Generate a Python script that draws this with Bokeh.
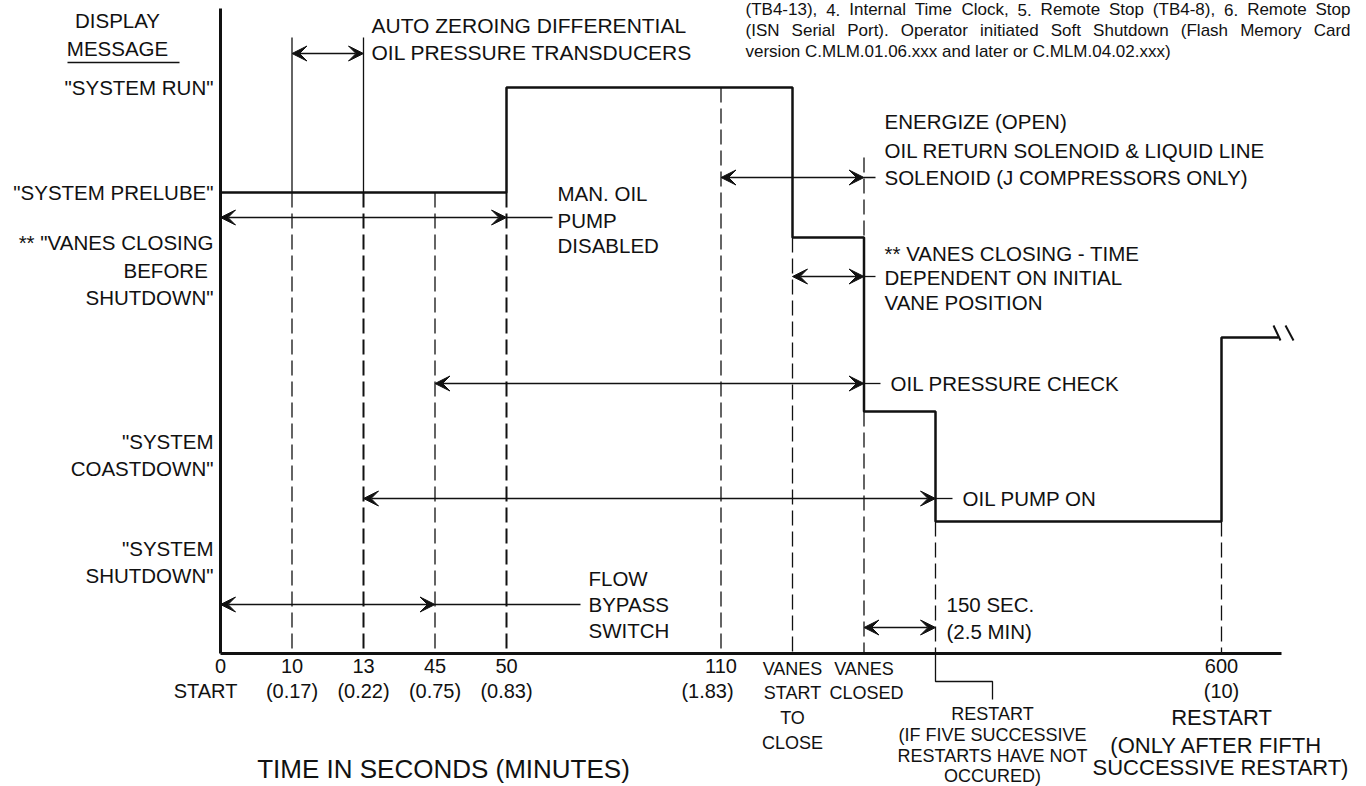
from bokeh.plotting import figure
from bokeh.models import Range1d, Arrow, VeeHead, ColumnDataSource
from bokeh.core.properties import value
from bokeh.embed import file_html
from bokeh.resources import INLINE

# ---------------- data ----------------
event_names = ["0", "10", "13", "45", "50", "110", "VANES START", "VANES CLOSED", "RESTART", "600"]
event_slot = [0, 1, 2, 3, 4, 7, 8, 9, 10, 14]          # schematic (not to scale) time axis
tick_seconds = ["0", "10", "13", "45", "50", "110", "", "", "", "600"]
tick_minutes = ["START", "(0.17)", "(0.22)", "(0.75)", "(0.83)", "(1.83)", "", "", "", "(10)"]

message_names = ["RUN", "PRELUBE", "VANES", "COASTDOWN", "SHUTDOWN", "RESTARTED"]
message_level = [566, 461, 416, 242, 132, 316]

transition_event = ["0", "50", "VANES START", "VANES CLOSED", "RESTART", "600"]
transition_message = ["PRELUBE", "RUN", "VANES", "COASTDOWN", "SHUTDOWN", "RESTARTED"]

interval_start = ["10", "0", "110", "VANES START", "45", "13", "0", "VANES CLOSED"]
interval_end = ["13", "50", "VANES CLOSED", "VANES CLOSED", "VANES CLOSED", "RESTART", "45", "RESTART"]
interval_name = ["AUTO ZEROING", "MAN. OIL PUMP DISABLED", "ENERGIZE", "VANES CLOSING",
                 "OIL PRESSURE CHECK", "OIL PUMP ON", "FLOW BYPASS SWITCH", "150 SEC."]

note_lines = ["(TB4-13), 4. Internal Time Clock, 5. Remote Stop (TB4-8), 6. Remote Stop",
              "(ISN Serial Port). Operator initiated Soft Shutdown (Flash Memory Card",
              "version C.MLM.01.06.xxx and later or C.MLM.04.02.xxx)"]

# ---------------- layout helpers ----------------
SLOT = 71.5
X0 = 220
BASE = 653
INK = "#111111"
FONT = value("Liberation Sans")
W_PX, H_PX = 1366, 786


def X(px):
    return (px - X0) / SLOT


def Y(py):
    return BASE - py


ev = dict(zip(event_names, event_slot))
lv = dict(zip(message_names, message_level))

p = figure(width=W_PX, height=H_PX, x_range=Range1d(X(0), X(W_PX)), y_range=Range1d(Y(H_PX), Y(0)),
           output_backend="svg", toolbar_location=None, min_border=0,
           x_axis_type=None, y_axis_type=None, outline_line_color=None)
p.grid.visible = False
p.background_fill_color = "white"

# axes of the diagram
p.line([0, 0], [0, Y(8)], line_width=3, line_color=INK)
p.line([0, X(1281)], [0, 0], line_width=3, line_color=INK)

# event lines (dashed, from the signal down to the time axis)
dash_top = {"10": "PRELUBE", "13": "PRELUBE", "45": "PRELUBE", "50": "PRELUBE", "110": "RUN",
            "VANES START": "VANES", "VANES CLOSED": "COASTDOWN", "RESTART": "SHUTDOWN", "600": "SHUTDOWN"}
dash_w = {"13": 2.0, "50": 2.0}
for e, m in dash_top.items():
    p.segment(ev[e], lv[m], ev[e], 0, line_width=dash_w.get(e, 1.3), line_color=INK, line_dash="15 6")
p.segment(ev["VANES CLOSED"], Y(157), ev["VANES CLOSED"], lv["VANES"], line_width=1.3,
          line_color=INK, line_dash="15 6")
for e in ["10", "13"]:
    p.segment(ev[e], Y(37), ev[e], lv["PRELUBE"], line_width=1.3, line_color=INK)

# display message signal (step line)
sx, sy = [], []
for e, m in zip(transition_event, transition_message):
    if sx:
        sx.append(ev[e])
        sy.append(sy[-1])
    sx.append(ev[e])
    sy.append(lv[m])
sx.append(X(1278))
sy.append(sy[-1])
p.line(sx, sy, line_width=2.5, line_color=INK)
p.segment([X(1273), X(1285)], [Y(325), Y(325)], [X(1280), X(1293)], [Y(340), Y(340)],
          line_width=2, line_color=INK)

# restart leader below the axis
r = ev["RESTART"]
p.line([r, r, X(992), X(992)], [0, Y(681), Y(681), Y(699)], line_width=1.3, line_color=INK)

# interval arrows
row_y = [53, 217, 177, 276, 383, 498, 604, 627]
leader_to = [None, 552, 875, 875, 880, 952, 580, None]
src = ColumnDataSource(dict(
    x0=[ev[s] for s in interval_start], x1=[ev[e] for e in interval_end],
    y=[Y(v) for v in row_y]))


def head():
    return VeeHead(size=15, fill_color=INK, line_color=INK, line_width=1)


p.add_layout(Arrow(start=head(), end=head(), x_start="x0", y_start="y", x_end="x1", y_end="y",
                   source=src, line_width=1.3, line_color=INK))
for s, e, yy, lt in zip(interval_start, interval_end, row_y, leader_to):
    if lt is not None:
        p.segment(ev[e], Y(yy), X(lt), Y(yy), line_width=1.3, line_color=INK)


# ---------------- texts ----------------
def txt(texts, xs, ys, align="left", size=21, baseline="middle"):
    p.text(x=xs, y=ys, text=texts, text_align=align, text_baseline=baseline,
           text_font=FONT, text_font_size=f"{size}px", text_color=INK)


ADV = {c: 556 for c in "0123456789"}
ADV.update(dict(zip("abcdefghijklmnopqrstuvwxyz",
                    [556, 556, 500, 556, 556, 278, 556, 556, 222, 222, 500, 222, 833, 556, 556, 556, 556,
                     333, 500, 278, 556, 500, 722, 500, 500, 500])))
ADV.update(dict(zip("ABCDEFGHIJKLMNOPQRSTUVWXYZ",
                    [667, 667, 722, 722, 667, 611, 778, 722, 278, 500, 667, 556, 833, 722, 778, 667, 778,
                     722, 667, 611, 722, 667, 944, 667, 667, 611])))
ADV.update({" ": 278, "(": 333, ")": 333, ",": 278, ".": 278, "-": 333})


def text_w(s, size):
    return sum(ADV.get(c, 556) for c in s) * size / 1000.0


def justified(line, xl, xr, yc, size):
    words = line.split(" ")
    gap = (xr - xl - sum(text_w(w, size) for w in words)) / (len(words) - 1)
    xs, x = [], xl
    for w in words:
        xs.append(X(x))
        x += text_w(w, size) + gap
    txt(words, xs, [Y(yc)] * len(words), "left", size)


# left: display messages
txt(["DISPLAY", "MESSAGE"], [X(117)] * 2, [Y(20), Y(48)], "center", 20.5)
p.segment(X(67), Y(62), X(179), Y(62), line_width=1.5, line_color=INK)
left_lines = [('"SYSTEM RUN"', 87), ('"SYSTEM PRELUBE"', 192), ('** "VANES CLOSING', 242),
              ('BEFORE ', 270), ('SHUTDOWN"', 297), ('"SYSTEM', 441), ('COASTDOWN"', 468),
              ('"SYSTEM', 548), ('SHUTDOWN"', 575)]
txt([t for t, _ in left_lines], [X(213)] * len(left_lines), [Y(v) for _, v in left_lines], "right", 20.5)

# top notes
txt(["AUTO ZEROING DIFFERENTIAL", "OIL PRESSURE TRANSDUCERS"], [X(371)] * 2, [Y(25), Y(52)], "left", 21)
justified(note_lines[0], 745, 1350, 9, 17)
justified(note_lines[1], 745, 1350, 30, 17)
txt([note_lines[2]], [X(745)], [Y(51)], "left", 17)

# interval labels
txt(["MAN. OIL", "PUMP", "DISABLED"], [X(557)] * 3, [Y(193), Y(220), Y(245)], "left", 20.5)
txt(["ENERGIZE (OPEN)", "OIL RETURN SOLENOID & LIQUID LINE", "SOLENOID (J COMPRESSORS ONLY)"],
    [X(884)] * 3, [Y(121), Y(150), Y(177)], "left", 20.5)
txt(["** VANES CLOSING - TIME", "DEPENDENT ON INITIAL", "VANE POSITION"],
    [X(884)] * 3, [Y(253), Y(277), Y(302)], "left", 20.5)
txt(["OIL PRESSURE CHECK"], [X(890)], [Y(383)], "left", 20.5)
txt(["OIL PUMP ON"], [X(962)], [Y(498)], "left", 20.5)
txt(["FLOW", "BYPASS", "SWITCH"], [X(588)] * 3, [Y(578), Y(604), Y(630)], "left", 20.5)
txt(["150 SEC.", "(2.5 MIN)"], [X(946)] * 2, [Y(604), Y(631)], "left", 20.5)

# time axis labels
sec_x = [ev[e] for e, t in zip(event_names, tick_seconds) if t]
txt([t for t in tick_seconds if t], sec_x, [Y(665)] * len(sec_x), "center", 20)
min_x = [ev[e] for e, t in zip(event_names, tick_minutes) if t]
min_x[0] = X(205)
min_x[5] = X(707)
txt([t for t in tick_minutes if t], min_x, [Y(690)] * len(min_x), "center", 20)
txt(["VANES", "START", "TO", "CLOSE"], [ev["VANES START"]] * 4, [Y(668), Y(692), Y(717), Y(742)], "center", 18)
txt(["VANES", "CLOSED"], [ev["VANES CLOSED"], X(866)], [Y(668), Y(692)], "center", 18)
txt(["RESTART", "(IF FIVE SUCCESSIVE", "RESTARTS HAVE NOT", "OCCURED)"], [X(992)] * 4,
    [Y(713), Y(734), Y(755), Y(775)], "center", 18)
txt(["RESTART", "(ONLY AFTER FIFTH", "SUCCESSIVE RESTART)"], [X(1221), X(1216), X(1220)],
    [Y(717), Y(745), Y(767)], "center", 22)
txt(["TIME IN SECONDS (MINUTES)"], [X(443)], [Y(768)], "center", 26)

open("out.html", "w").write(file_html(p, INLINE))
